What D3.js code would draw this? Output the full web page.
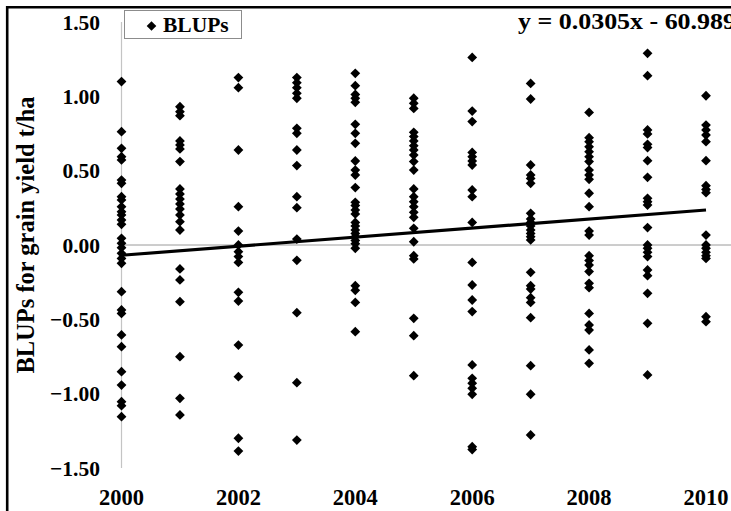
<!DOCTYPE html>
<html>
<head>
<meta charset="utf-8">
<script src="https://cdn.jsdelivr.net/npm/d3@7"></script>
<style>
  html, body { margin: 0; padding: 0; background: #fff; overflow: hidden; }
  svg { display: block; font-family: "Liberation Serif", "Times New Roman", serif; font-weight: bold; }
</style>
</head>
<body>
<svg id="chart" width="731" height="511"></svg>
<script>
// BLUPs for grain yield (t/ha), one array per release year
const blups2000 = [1.099, 0.762, 0.650, 0.594, 0.572, 0.437, 0.415, 0.325, 0.303, 0.258, 0.224, 0.202, 0.168, 0.139, 0.045, 0.011, -0.018, -0.056, -0.090, -0.123, -0.314, -0.437, -0.460, -0.605, -0.684, -0.852, -0.942, -1.054, -1.081, -1.155];
const blups2001 = [0.930, 0.897, 0.870, 0.700, 0.673, 0.646, 0.561, 0.377, 0.343, 0.309, 0.276, 0.242, 0.202, 0.157, 0.101, -0.161, -0.235, -0.381, -0.751, -1.031, -1.143];
const blups2002 = [1.126, 1.058, 0.639, 0.258, 0.094, 0.000, -0.045, -0.078, -0.117, -0.318, -0.377, -0.673, -0.886, -1.300, -1.386];
const blups2003 = [1.126, 1.092, 1.058, 1.020, 0.987, 0.785, 0.751, 0.639, 0.534, 0.325, 0.251, 0.040, -0.103, -0.455, -0.926, -1.312];
const blups2004 = [1.155, 1.072, 1.013, 0.987, 0.960, 0.812, 0.751, 0.684, 0.565, 0.504, 0.471, 0.386, 0.287, 0.265, 0.235, 0.209, 0.152, 0.128, 0.101, 0.078, 0.056, 0.031, 0.009, -0.022, -0.274, -0.305, -0.386, -0.583];
const blups2005 = [0.987, 0.953, 0.919, 0.758, 0.729, 0.700, 0.668, 0.639, 0.605, 0.561, 0.504, 0.377, 0.325, 0.291, 0.258, 0.220, 0.186, 0.112, 0.022, -0.072, -0.094, -0.493, -0.610, -0.879];
const blups2006 = [1.262, 0.901, 0.830, 0.623, 0.594, 0.565, 0.538, 0.370, 0.325, 0.152, -0.117, -0.269, -0.370, -0.448, -0.807, -0.897, -0.930, -0.964, -1.004, -1.357, -1.376];
const blups2007 = [1.087, 0.982, 0.538, 0.471, 0.448, 0.415, 0.213, 0.175, 0.152, 0.128, 0.101, 0.078, 0.056, 0.034, -0.184, -0.274, -0.296, -0.354, -0.386, -0.489, -0.812, -1.004, -1.278];
const blups2008 = [0.892, 0.722, 0.695, 0.661, 0.628, 0.594, 0.561, 0.504, 0.471, 0.442, 0.348, 0.258, 0.094, 0.067, -0.072, -0.105, -0.135, -0.179, -0.258, -0.287, -0.460, -0.538, -0.572, -0.706, -0.796];
const blups2009 = [1.289, 1.139, 0.774, 0.747, 0.677, 0.655, 0.567, 0.455, 0.314, 0.291, 0.269, 0.117, 0.000, -0.022, -0.049, -0.078, -0.168, -0.206, -0.325, -0.527, -0.874];
const blups2010 = [1.004, 0.807, 0.774, 0.740, 0.695, 0.567, 0.399, 0.374, 0.352, 0.067, 0.000, -0.022, -0.049, -0.072, -0.090, -0.482, -0.516];

const years = [2000, 2001, 2002, 2003, 2004, 2005, 2006, 2007, 2008, 2009, 2010];
const blupsByYear = [blups2000, blups2001, blups2002, blups2003, blups2004, blups2005,
                     blups2006, blups2007, blups2008, blups2009, blups2010];

const xTicks = [2000, 2002, 2004, 2006, 2008, 2010];
const yTicks = [1.5, 1.0, 0.5, 0.0, -0.5, -1.0, -1.5];

// Linear trend fitted over the release years
const trendSlope = 0.03046;
const trendIntercept = -60.989;

const seriesName = "BLUPs";
const yTitle = "BLUPs for grain yield t/ha";

const points = [];
years.forEach((yr, i) => blupsByYear[i].forEach(v => points.push({ year: yr, value: v })));

const W = 731, H = 511;
const svg = d3.select("#chart");

const x = d3.scaleLinear().domain([2000, 2010]).range([121.5, 706]);
const y = d3.scaleLinear().domain([-1.5, 1.5]).range([468, 22]);

// outer frame (only its top and left edges fall inside the view)
svg.append("path")
  .attr("d", `M7.2,${H + 5}V7.2H${W + 5}`)
  .attr("fill", "none").attr("stroke", "#000").attr("stroke-width", 2.6);

// vertical value axis line
svg.append("line")
  .attr("x1", x(2000)).attr("x2", x(2000))
  .attr("y1", y(1.5)).attr("y2", y(-1.5))
  .attr("stroke", "#c4c4c4").attr("stroke-width", 1.2);

// horizontal axis at zero
svg.append("line")
  .attr("x1", x(2000)).attr("x2", W)
  .attr("y1", y(0)).attr("y2", y(0))
  .attr("stroke", "#9a9a9a").attr("stroke-width", 1);

// y tick labels
svg.append("g").selectAll("text").data(yTicks).join("text")
  .attr("x", 100).attr("y", d => y(d))
  .attr("dy", "0.36em")
  .attr("text-anchor", "end")
  .attr("font-size", 21.5)
  .text(d => d3.format(".2f")(d));

// x tick labels
svg.append("g").selectAll("text").data(xTicks).join("text")
  .attr("x", d => x(d)).attr("y", 505)
  .attr("text-anchor", "middle")
  .attr("font-size", 22.5)
  .text(d => d);

// y axis title
svg.append("text")
  .attr("transform", `translate(34, ${y(0) - 10}) rotate(-90)`)
  .attr("text-anchor", "middle")
  .attr("font-size", 24.5)
  .text(yTitle);

const diamond = (cx, cy, r) => `M${cx},${cy - r}L${cx + r},${cy}L${cx},${cy + r}L${cx - r},${cy}Z`;

// data points
svg.append("g").selectAll("path").data(points).join("path")
  .attr("d", d => diamond(x(d.year), y(d.value), 4.9))
  .attr("fill", "#000");

// trend line
svg.append("line")
  .attr("x1", x(2000)).attr("y1", y(trendSlope * 2000 + trendIntercept))
  .attr("x2", x(2010)).attr("y2", y(trendSlope * 2010 + trendIntercept))
  .attr("stroke", "#000").attr("stroke-width", 3.2);

// trend equation
const fmtSlope = d3.format(".3");
const eqText = `y = ${fmtSlope(trendSlope)}x - ${d3.format(".3f")(Math.abs(trendIntercept))}`;
svg.append("text")
  .attr("x", 518).attr("y", 29)
  .attr("font-size", 24)
  .attr("textLength", 218)
  .attr("lengthAdjust", "spacingAndGlyphs")
  .text(eqText);

// legend
const lg = svg.append("g");
lg.append("rect")
  .attr("x", 124.5).attr("y", 10.5).attr("width", 117).attr("height", 28)
  .attr("fill", "#fff").attr("stroke", "#8c8c8c").attr("stroke-width", 1);
lg.append("path").attr("d", diamond(151.5, 26, 4.8)).attr("fill", "#000");
lg.append("text")
  .attr("x", 163).attr("y", 32)
  .attr("font-size", 21.5)
  .text(seriesName);
</script>
</body>
</html>
